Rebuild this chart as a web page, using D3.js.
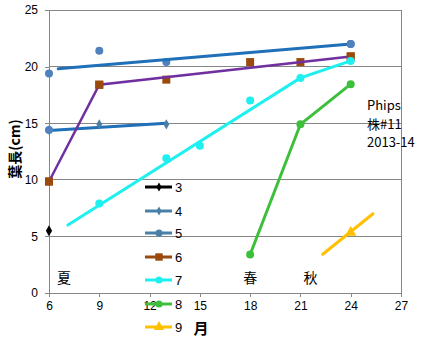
<!DOCTYPE html>
<html>
<head>
<meta charset="utf-8">
<script src="https://cdn.jsdelivr.net/npm/d3@7"></script>
<style>
  html, body { margin: 0; padding: 0; background: #fff; }
  svg { display: block; font-family: "Liberation Sans", Arial, sans-serif; }
</style>
</head>
<body>
<svg id="chart" width="424" height="341"></svg>
<script>
// Leaf length (cm) by month for plant #11, 2013-14, one series per leaf
const xTicks = [6, 9, 12, 15, 18, 21, 24, 27];
const yTicks = [0, 5, 10, 15, 20, 25];

const leaf3Months = [6];
const leaf3Values = [5.5];

const leaf4Months = [6, 9, 13];
const leaf4Values = [14.4, 14.9, 14.9];
const leaf4TrendMonths = [6, 13];
const leaf4TrendValues = [14.35, 15.0];

const leaf5Months = [6, 9, 13, 24];
const leaf5Values = [19.4, 21.4, 20.4, 22.0];
const leaf5TrendMonths = [6.55, 24];
const leaf5TrendValues = [19.8, 22.0];

const leaf6Months = [6, 9, 13, 18, 21, 24];
const leaf6Values = [9.85, 18.4, 18.85, 20.4, 20.4, 20.9];
const leaf6LineMonths = [6, 9, 24];
const leaf6LineValues = [9.85, 18.4, 20.9];

const leaf7Months = [9, 13, 15, 18, 21, 24];
const leaf7Values = [7.9, 11.9, 13.0, 17.0, 19.0, 20.5];
const leaf7LineMonths = [7.13, 21, 24];
const leaf7LineValues = [6.0, 19.0, 20.5];

const leaf8Months = [18, 21, 24];
const leaf8Values = [3.4, 14.9, 18.45];

const leaf9Months = [24];
const leaf9Values = [5.35];
const leaf9TrendMonths = [22.33, 25.33];
const leaf9TrendValues = [3.42, 7.0];

const legendLabels = ["3", "4", "5", "6", "7", "8", "9"];
const seasonLabels = ["夏", "春", "秋"];
const seasonMonths = [6.9, 18, 21.6];
const noteLines = ["Phips", "株#11", "2013-14"];

const svg = d3.select("#chart");
const plot = { left: 49, right: 401, top: 10, bottom: 293 };

const x = d3.scaleLinear().domain([6, 27]).range([plot.left, plot.right]);
const y = d3.scaleLinear().domain([0, 25]).range([plot.bottom, plot.top]);

const zip = (xs, ys) => xs.map((m, i) => [m, ys[i]]);
const line = d3.line().x(d => x(d[0])).y(d => y(d[1]));

// gridlines
svg.append("g").selectAll("line")
  .data(yTicks.filter(v => v > 0))
  .join("line")
  .attr("x1", plot.left).attr("x2", plot.right)
  .attr("y1", d => y(d)).attr("y2", d => y(d))
  .attr("stroke", "#868686").attr("stroke-width", 1)
  .attr("shape-rendering", "crispEdges");

// right border of plot area
svg.append("line")
  .attr("x1", plot.right).attr("x2", plot.right)
  .attr("y1", plot.top).attr("y2", plot.bottom)
  .attr("stroke", "#6f86a6").attr("stroke-width", 1)
  .attr("shape-rendering", "crispEdges");

// axes
const xAxis = svg.append("g")
  .attr("transform", `translate(0,${plot.bottom})`)
  .call(d3.axisBottom(x).tickValues(xTicks).tickSize(4).tickSizeOuter(0).tickPadding(4));
const yAxis = svg.append("g")
  .attr("transform", `translate(${plot.left},0)`)
  .call(d3.axisLeft(y).tickValues(yTicks).tickSize(4).tickSizeOuter(0).tickPadding(7));
[xAxis, yAxis].forEach(g => {
  g.select(".domain").attr("stroke", "#868686").attr("shape-rendering", "crispEdges");
  g.selectAll(".tick line").attr("stroke", "#868686").attr("shape-rendering", "crispEdges");
  g.selectAll("text").attr("fill", "#000").attr("font-size", 12)
    .attr("font-family", "'Liberation Sans', Arial, sans-serif");
});

// marker helpers
const sym = (type, size) => d3.symbol().type(type).size(size)();
function markers(data, type, size, color) {
  svg.append("g").selectAll("path")
    .data(data).join("path")
    .attr("d", sym(type, size))
    .attr("transform", d => `translate(${x(d[0])},${y(d[1])})`)
    .attr("fill", color);
}
function path(data, color, width) {
  svg.append("path").datum(data)
    .attr("d", line)
    .attr("fill", "none").attr("stroke", color)
    .attr("stroke-width", width).attr("stroke-linecap", "round");
}

const colors = {
  l3: "#000000", l4: "#4a7fa8", l5: "#4f81bd", l6: "#9a4a0c",
  l7: "#1ef0f0", l8: "#3cc03c", l9: "#ffc000",
  trendBlue: "#1f70b8", purple: "#7030a0"
};

// leaf 3
markers(zip(leaf3Months, leaf3Values), d3.symbolDiamond, 34, colors.l3);

// leaf 4
path(zip(leaf4TrendMonths, leaf4TrendValues), colors.trendBlue, 3);
markers(zip(leaf4Months, leaf4Values), d3.symbolDiamond, 30, colors.l4);
markers(zip(leaf4Months.slice(0, 1), leaf4Values.slice(0, 1)), d3.symbolCircle, 50, colors.l5);

// leaf 5
markers(zip(leaf5Months, leaf5Values), d3.symbolCircle, 50, colors.l5);
path(zip(leaf5TrendMonths, leaf5TrendValues), colors.trendBlue, 3);
markers(zip(leaf5Months.slice(-1), leaf5Values.slice(-1)), d3.symbolCircle, 50, colors.l5);

// leaf 6
markers(zip(leaf6Months, leaf6Values), d3.symbolSquare, 64, colors.l6);
path(zip(leaf6LineMonths, leaf6LineValues), colors.purple, 2.5);
markers(zip([6, 9, 24], [9.85, 18.4, 20.9]), d3.symbolSquare, 64, colors.l6);

// leaf 7
path(zip(leaf7LineMonths, leaf7LineValues), colors.l7, 3);
markers(zip(leaf7Months, leaf7Values), d3.symbolCircle, 50, colors.l7);

// leaf 8
path(zip(leaf8Months, leaf8Values), colors.l8, 3);
markers(zip(leaf8Months, leaf8Values), d3.symbolCircle, 50, colors.l8);

// leaf 9
path(zip(leaf9TrendMonths, leaf9TrendValues), colors.l9, 3);
markers(zip(leaf9Months, leaf9Values), d3.symbolTriangle, 55, colors.l9);

// legend
const legendStyles = [
  { c: colors.l3, t: d3.symbolDiamond, s: 24 },
  { c: colors.l4, t: d3.symbolDiamond, s: 24 },
  { c: colors.l4, t: d3.symbolCircle, s: 40 },
  { c: colors.l6, t: d3.symbolSquare, s: 55 },
  { c: colors.l7, t: d3.symbolCircle, s: 40 },
  { c: colors.l8, t: d3.symbolCircle, s: 40 },
  { c: colors.l9, t: d3.symbolTriangle, s: 45 }
];
const legendY = [187, 211, 233, 257, 280, 304, 327];
const lg = svg.append("g").selectAll("g")
  .data(legendLabels).join("g")
  .attr("transform", (d, i) => `translate(145,${legendY[i]})`);
lg.append("line").attr("x1", 0).attr("x2", 27).attr("y1", 0).attr("y2", 0)
  .attr("stroke", (d, i) => legendStyles[i].c).attr("stroke-width", 3);
lg.append("path")
  .attr("d", (d, i) => sym(legendStyles[i].t, legendStyles[i].s))
  .attr("transform", "translate(14,0)")
  .attr("fill", (d, i) => legendStyles[i].c);
lg.append("text").attr("x", 30).attr("y", 0).attr("dy", "0.35em")
  .attr("font-size", 13).attr("fill", "#000").text(d => d);

// season labels
svg.append("g").selectAll("text")
  .data(seasonLabels).join("text")
  .attr("x", (d, i) => x(seasonMonths[i]))
  .attr("y", 283)
  .attr("text-anchor", "middle")
  .attr("font-family", "'Noto Sans CJK JP', sans-serif")
  .attr("font-size", 14).attr("fill", "#000")
  .text(d => d);

// note
svg.append("g").selectAll("text")
  .data(noteLines).join("text")
  .attr("x", 367).attr("y", (d, i) => 110 + i * 18.5)
  .attr("font-family", "'Noto Sans CJK JP', 'Open Sans', sans-serif")
  .attr("font-size", 13).attr("fill", "#000")
  .text(d => d);

// axis titles
svg.append("text")
  .attr("transform", "translate(20,149) rotate(-90)")
  .attr("text-anchor", "middle")
  .attr("font-family", "'Noto Sans CJK JP', sans-serif")
  .attr("font-weight", "bold").attr("font-size", 14).attr("fill", "#000")
  .text("葉長(cm)");
svg.append("text")
  .attr("x", 201).attr("y", 334)
  .attr("text-anchor", "middle")
  .attr("font-family", "'Noto Sans CJK JP', sans-serif")
  .attr("font-weight", "bold").attr("font-size", 15).attr("fill", "#000")
  .text("月");
</script>
</body>
</html>
